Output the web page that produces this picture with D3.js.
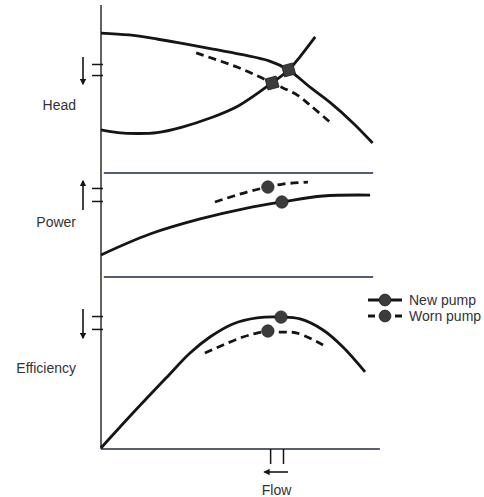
<!DOCTYPE html>
<html>
<head>
<meta charset="utf-8">
<script src="https://cdn.jsdelivr.net/npm/d3@7"></script>
<style>
  body { margin: 0; background: #fff; }
  text { font-family: "Liberation Sans", Arial, sans-serif; fill: #333; }
</style>
</head>
<body>
<svg id="chart" width="484" height="497"></svg>
<script>
var headNewFlow = [0, 10, 20, 30, 40, 50, 60, 67, 75, 82, 90, 97];
var headNew     = [83.5, 82.4, 80.0, 77.1, 74.1, 70.9, 67.1, 61.8, 51.2, 42.4, 30.6, 18.8];
var headWornFlow = [34, 48.6, 56.8, 61.1, 65, 70, 74.6, 82.1];
var headWorn     = [71.8, 63.5, 57.6, 54.1, 51.2, 47.1, 41.2, 30.6];
var systemFlow = [0, 6, 13, 20, 29, 39, 49, 61, 67, 71, 76.5];
var systemHead = [26.5, 24.9, 24.4, 24.9, 28.2, 33.5, 40.6, 54.1, 61.8, 69.4, 81.2];

var powerNewFlow = [0, 17.5, 35.4, 52.1, 64.6, 79.3, 96.1];
var powerNew     = [21.2, 41.3, 55.8, 66.3, 72.1, 77.9, 78.8];
var powerWornFlow = [40.7, 52.1, 59.6, 65, 73.9];
var powerWorn     = [72.1, 81.7, 86.5, 89.4, 91.3];

var effNewFlow = [0, 11.4, 23.6, 31.8, 38.9, 47.1, 55.7, 64.3, 71.1, 79.3, 86.4, 94.3];
var effNew     = [0.6, 20.9, 41.9, 55.8, 65.1, 72.7, 76.2, 76.7, 75.6, 69.2, 59.3, 44.8];
var effWornFlow = [37.1, 43.6, 50.7, 55.7, 59.6, 63.9, 70, 79.3];
var effWorn     = [55.8, 60.5, 65.1, 67.4, 68.6, 68.0, 67.4, 60.5];

// operating points [flow, value] : head, power, efficiency
var newPoints  = [[67, 61.8], [64.6, 72.1], [64.3, 76.7]];
var wornPoints = [[61.1, 54.1], [59.6, 86.5], [59.6, 68.6]];

var panelLabels = ['Head', 'Power', 'Efficiency'];
var panelTicks = [[65.3, 58.8], [85.6, 73.1], [77.3, 69.8]];
var flowTicks = [60.4, 65];
var legendLabels = ['New pump', 'Worn pump'];

var svg = d3.select('#chart');
var ink = '#151515';

var x = d3.scaleLinear().domain([0, 100]).range([101, 381]);
var yHead = d3.scaleLinear().domain([0, 100]).range([175, 5]);
var yPower = d3.scaleLinear().domain([0, 100]).range([277, 173]);
var yEff = d3.scaleLinear().domain([0, 100]).range([449, 277]);

function zip(a, b) { return a.map(function (d, i) { return [d, b[i]]; }); }

var panels = [
  {y: yHead, curves: [
    {data: zip(headNewFlow, headNew)},
    {data: zip(systemFlow, systemHead)},
    {data: zip(headWornFlow, headWorn), dashed: true}
  ], labelY: 110, arrow: 'down'},
  {y: yPower, curves: [
    {data: zip(powerNewFlow, powerNew)},
    {data: zip(powerWornFlow, powerWorn), dashed: true}
  ], labelY: 227, arrow: 'up'},
  {y: yEff, curves: [
    {data: zip(effNewFlow, effNew)},
    {data: zip(effWornFlow, effWorn), dashed: true}
  ], labelY: 373, arrow: 'down'}
];

// arrow heads
var defs = svg.append('defs');
defs.append('marker')
    .attr('id', 'arr')
    .attr('viewBox', '0 0 10 10')
    .attr('refX', 8).attr('refY', 5)
    .attr('markerWidth', 4).attr('markerHeight', 4)
    .attr('markerUnits', 'strokeWidth')
    .attr('orient', 'auto')
  .append('path')
    .attr('d', 'M0,0 L10,5 L0,10 Z')
    .attr('fill', ink);

// main axes
svg.append('line')
    .attr('x1', x(0)).attr('x2', x(0))
    .attr('y1', yHead(100)).attr('y2', yEff(0))
    .attr('stroke', '#2f2f25').attr('stroke-width', 1.5);

var xAxis = svg.append('g')
    .attr('transform', 'translate(0,' + yEff(0) + ')')
    .call(d3.axisBottom(x).tickValues(flowTicks).tickSize(15).tickFormat(''));
xAxis.select('.domain').attr('d', 'M' + x(0) + ',0H' + x(99.6)).attr('stroke', '#222a3a').attr('stroke-width', 1.5);
xAxis.selectAll('.tick line').attr('stroke', ink).attr('stroke-width', 1.5);

// panel separators
[yPower(100), yEff(100)].forEach(function (yy) {
  svg.append('line')
      .attr('x1', x(1)).attr('x2', x(97.2))
      .attr('y1', yy).attr('y2', yy)
      .attr('stroke', '#1c2940').attr('stroke-width', 1.5);
});

var line = d3.line()
    .curve(d3.curveCatmullRom.alpha(0.5));

panels.forEach(function (p, i) {
  line.x(function (d) { return x(d[0]); })
      .y(function (d) { return p.y(d[1]); });

  p.curves.forEach(function (c) {
    svg.append('path')
        .attr('d', line(c.data))
        .attr('fill', 'none')
        .attr('stroke', ink)
        .attr('stroke-width', 2.8)
        .attr('stroke-dasharray', c.dashed ? '8,5' : null);
  });

  // short ticks on the y axis
  var ax = svg.append('g')
      .attr('transform', 'translate(' + (x(0) + 2) + ',0)')
      .call(d3.axisLeft(p.y).tickValues(panelTicks[i]).tickSize(11).tickFormat(''));
  ax.select('.domain').remove();
  ax.selectAll('.tick line').attr('stroke', ink).attr('stroke-width', 1.5);

  // arrow next to the ticks
  var t0 = p.y(d3.max(panelTicks[i])), t1 = p.y(d3.min(panelTicks[i]));
  var top = t0 - 7, bot = t1 + 9;
  svg.append('line')
      .attr('x1', 83).attr('x2', 83)
      .attr('y1', p.arrow === 'down' ? top : bot)
      .attr('y2', p.arrow === 'down' ? bot : top)
      .attr('stroke', ink).attr('stroke-width', 1.6)
      .attr('marker-end', 'url(#arr)');

  svg.append('text')
      .attr('x', 76).attr('y', p.labelY)
      .attr('text-anchor', 'end')
      .attr('font-size', 14)
      .text(panelLabels[i]);

  var sym = i === 0 ? d3.symbol().type(d3.symbolSquare).size(130) : d3.symbol().type(d3.symbolCircle).size(120);
  [wornPoints[i], newPoints[i]].forEach(function (pt) {
    svg.append('path')
        .attr('d', sym())
        .attr('transform', 'translate(' + x(pt[0]) + ',' + p.y(pt[1]) + ')' + (i === 0 ? ' rotate(-15)' : ''))
        .attr('fill', '#3c3c3c')
        .attr('stroke', '#222').attr('stroke-width', 0.8);
  });
});

// flow arrow and label
svg.append('line')
    .attr('x1', x(66.8)).attr('x2', x(58.4))
    .attr('y1', 472).attr('y2', 472)
    .attr('stroke', ink).attr('stroke-width', 1.6)
    .attr('marker-end', 'url(#arr)');
svg.append('text')
    .attr('x', x(62.7)).attr('y', 495)
    .attr('text-anchor', 'middle')
    .attr('font-size', 14)
    .text('Flow');

// legend
var legend = svg.append('g').attr('transform', 'translate(368,300)');
legendLabels.forEach(function (name, i) {
  var g = legend.append('g').attr('transform', 'translate(0,' + (i * 16) + ')');
  g.append('line')
      .attr('x1', 0).attr('x2', 34)
      .attr('stroke', ink).attr('stroke-width', 2.8)
      .attr('stroke-dasharray', i ? '7,20' : null);
  g.append('path')
      .attr('d', d3.symbol().type(d3.symbolCircle).size(110)())
      .attr('transform', 'translate(17,0)')
      .attr('fill', '#3c3c3c').attr('stroke', '#222').attr('stroke-width', 0.8);
  g.append('text')
      .attr('x', 41).attr('y', 5)
      .attr('font-size', 14)
      .text(name);
});
</script>
</body>
</html>
